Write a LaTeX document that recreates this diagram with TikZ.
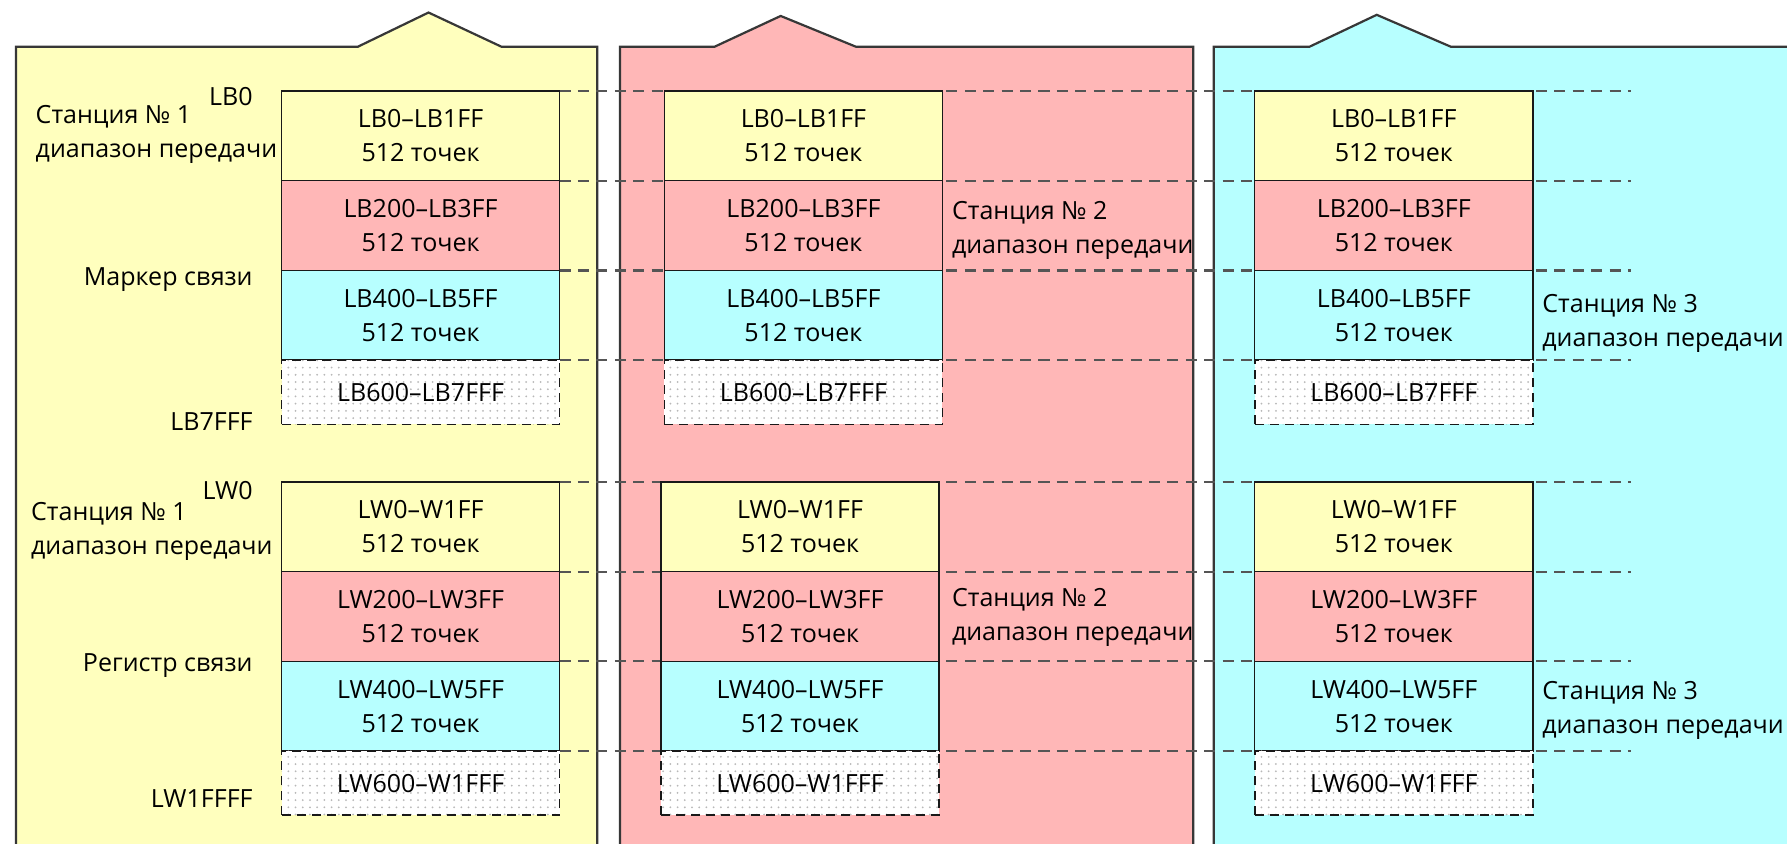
\documentclass[tikz,border=0pt]{standalone}
\usepackage{fontspec}
\setmainfont{Open Sans}
\usetikzlibrary{positioning,patterns.meta}
\definecolor{memYellow}{RGB}{255, 255, 190}
\definecolor{memPink}{RGB}{255, 183, 183}
\definecolor{memCyan}{RGB}{183, 255, 255}
\definecolor{memEdge}{RGB}{55, 55, 55}
\definecolor{memDash}{RGB}{85, 85, 85}
\newcommand{\memfont}{\fontsize{12.5}{17}\selectfont}
\pgfdeclarelayer{back}
\pgfdeclarelayer{mid}
\pgfsetlayers{back,mid,main}

\begin{document}
\begin{tikzpicture}[x=0.02cm, y=-0.02cm,
    panel/.style={draw=memEdge, line width=1.1pt},
    cell/.style={draw=black!90, line width=0.7pt, minimum width=4.88cm, minimum height=1.573cm, inner sep=0pt, outer sep=0pt, align=center, font=\memfont},
    gapcell/.style={draw=black!90, line width=0.9pt, dash pattern=on 4.5pt off 3pt, preaction={fill=white}, pattern={Dots[distance=3.6pt, radius=0.5pt]}, pattern color=black!28, minimum width=4.88cm, minimum height=1.13cm, inner sep=0pt, outer sep=0pt, font=\memfont},
    lbl/.style={inner sep=0pt, font=\memfont},
    guide/.style={draw=memDash, line width=1.1pt, dash pattern=on 5.5pt off 3.7pt}]
    \useasboundingbox (0,0) rectangle (1568,740);

    % station 1
    \node[cell, fill=memYellow, anchor=north west] (b1a) at (247,80) {LB0--LB1FF\\512 точек};
    \node[cell, fill=memPink, below=0pt of b1a] (b1b) {LB200--LB3FF\\512 точек};
    \node[cell, fill=memCyan, below=0pt of b1b] (b1c) {LB400--LB5FF\\512 точек};
    \node[gapcell, below=0pt of b1c] (b1d) {LB600--LB7FFF};
    \node[cell, fill=memYellow, anchor=north west] (w1a) at (247,423) {LW0--W1FF\\512 точек};
    \node[cell, fill=memPink, below=0pt of w1a] (w1b) {LW200--LW3FF\\512 точек};
    \node[cell, fill=memCyan, below=0pt of w1b] (w1c) {LW400--LW5FF\\512 точек};
    \node[gapcell, below=0pt of w1c] (w1d) {LW600--W1FFF};

    \node[lbl, anchor=east] (lbStart) at (222,85) {LB0};
    \node[lbl, anchor=west, align=left] (send1b) at (31,118) {Станция № 1\\диапазон передачи};
    \node[lbl, anchor=east] (marker) at (222,245) {Маркер связи};
    \node[lbl, anchor=east] (lbEnd) at (222,370) {LB7FFF};
    \node[lbl, anchor=east] (lwStart) at (222,430) {LW0};
    \node[lbl, anchor=west, align=left] (send1w) at (27,466) {Станция № 1\\диапазон передачи};
    \node[lbl, anchor=east] (register) at (222,584) {Регистр связи};
    \node[lbl, anchor=east] (lwEnd) at (222,701) {LW1FFFF};

    % station 2
    \node[cell, fill=memYellow, anchor=north west] (b2a) at (583,80) {LB0--LB1FF\\512 точек};
    \node[cell, fill=memPink, below=0pt of b2a] (b2b) {LB200--LB3FF\\512 точек};
    \node[cell, fill=memCyan, below=0pt of b2b] (b2c) {LB400--LB5FF\\512 точек};
    \node[gapcell, below=0pt of b2c] (b2d) {LB600--LB7FFF};
    \node[cell, fill=memYellow, anchor=north west] (w2a) at (580,423) {LW0--W1FF\\512 точек};
    \node[cell, fill=memPink, below=0pt of w2a] (w2b) {LW200--LW3FF\\512 точек};
    \node[cell, fill=memCyan, below=0pt of w2b] (w2c) {LW400--LW5FF\\512 точек};
    \node[gapcell, below=0pt of w2c] (w2d) {LW600--W1FFF};

    \node[lbl, anchor=west, align=left] (send2b) at (835,202) {Станция № 2\\диапазон передачи};
    \node[lbl, anchor=west, align=left] (send2w) at (835,542) {Станция № 2\\диапазон передачи};

    % station 3
    \node[cell, fill=memYellow, anchor=north west] (b3a) at (1101,80) {LB0--LB1FF\\512 точек};
    \node[cell, fill=memPink, below=0pt of b3a] (b3b) {LB200--LB3FF\\512 точек};
    \node[cell, fill=memCyan, below=0pt of b3b] (b3c) {LB400--LB5FF\\512 точек};
    \node[gapcell, below=0pt of b3c] (b3d) {LB600--LB7FFF};
    \node[cell, fill=memYellow, anchor=north west] (w3a) at (1101,423) {LW0--W1FF\\512 точек};
    \node[cell, fill=memPink, below=0pt of w3a] (w3b) {LW200--LW3FF\\512 точек};
    \node[cell, fill=memCyan, below=0pt of w3b] (w3c) {LW400--LW5FF\\512 точек};
    \node[gapcell, below=0pt of w3c] (w3d) {LW600--W1FFF};

    \node[lbl, anchor=west, align=left] (send3b) at (1353,284) {Станция № 3\\диапазон передачи};
    \node[lbl, anchor=west, align=left] (send3w) at (1353,623) {Станция № 3\\диапазон передачи};

    % station panels
    \begin{pgfonlayer}{back}
        \filldraw[panel, fill=memYellow] (14,760) -- (14,41) -- (314,41) -- (376,11) -- (440,41) -- (524,41) -- (524,760);
        \filldraw[panel, fill=memPink] (544,760) -- (544,41) -- (627,41) -- (685,14) -- (751,41) -- (1047,41) -- (1047,760);
        \filldraw[panel, fill=memCyan] (1065,760) -- (1065,41) -- (1149,41) -- (1208,13) -- (1273,41) -- (1590,41) -- (1590,760);
    \end{pgfonlayer}

    % row boundaries
    \coordinate (dashEnd) at (1431,0);
    \begin{pgfonlayer}{mid}
        \draw[guide] (b1a.north east) -- (b1a.north east -| dashEnd);
        \draw[guide] (b1b.north east) -- (b1b.north east -| dashEnd);
        \draw[guide] (b1c.north east) -- (b1c.north east -| dashEnd);
        \draw[guide] (b1d.north east) -- (b1d.north east -| dashEnd);
        \draw[guide] (w1a.north east) -- (w1a.north east -| dashEnd);
        \draw[guide] (w1b.north east) -- (w1b.north east -| dashEnd);
        \draw[guide] (w1c.north east) -- (w1c.north east -| dashEnd);
        \draw[guide] (w1d.north east) -- (w1d.north east -| dashEnd);
    \end{pgfonlayer}
\end{tikzpicture}
\end{document}
